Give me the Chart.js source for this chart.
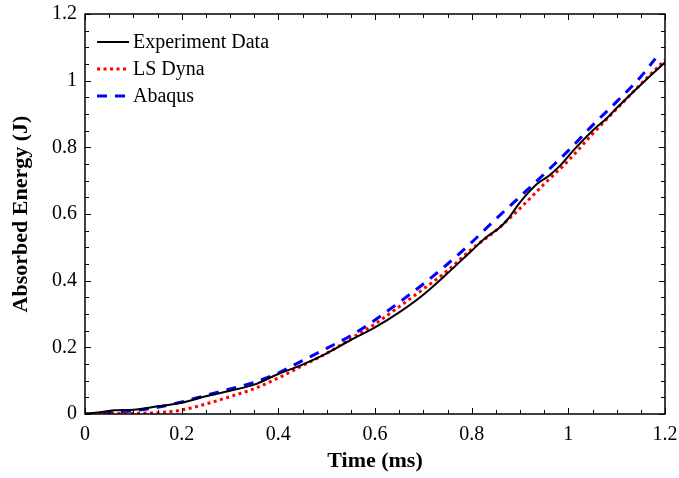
<!DOCTYPE html>
<html>
<head>
<meta charset="utf-8">
<script src="https://cdn.jsdelivr.net/npm/chart.js@4/dist/chart.umd.min.js"></script>
<style>
  body { margin: 0; background: #fff; }
  canvas { display: block; }
</style>
</head>
<body>
<canvas id="energyChart" width="679" height="478"></canvas>
<script>
// Values
const timeExp = [0, 0.03, 0.06, 0.1, 0.15, 0.2, 0.25, 0.3, 0.35, 0.4, 0.45, 0.5, 0.55, 0.6, 0.65, 0.7, 0.75, 0.8, 0.83, 0.86, 0.875, 0.9, 0.935, 0.96, 0.985, 1.01, 1.05, 1.08, 1.1, 1.15, 1.2];
const energyExp = [0, 0.005, 0.011, 0.013, 0.023, 0.034, 0.053, 0.07, 0.088, 0.12, 0.148, 0.182, 0.222, 0.26, 0.305, 0.358, 0.422, 0.49, 0.53, 0.562, 0.585, 0.635, 0.69, 0.715, 0.748, 0.79, 0.85, 0.888, 0.918, 0.988, 1.055];

const timeDyna = [0, 0.05, 0.1, 0.15, 0.2, 0.25, 0.3, 0.35, 0.4, 0.45, 0.5, 0.55, 0.6, 0.65, 0.7, 0.75, 0.8, 0.85, 0.9, 0.95, 1.0, 1.05, 1.1, 1.15, 1.2];
const energyDyna = [0, 0.001, 0.002, 0.004, 0.012, 0.03, 0.052, 0.076, 0.108, 0.145, 0.182, 0.226, 0.27, 0.322, 0.375, 0.43, 0.495, 0.55, 0.617, 0.69, 0.76, 0.84, 0.915, 0.99, 1.062];

const timeAbaqus = [0, 0.05, 0.1, 0.15, 0.2, 0.25, 0.3, 0.35, 0.4, 0.45, 0.5, 0.55, 0.6, 0.65, 0.7, 0.75, 0.8, 0.85, 0.9, 0.95, 1.0, 1.05, 1.1, 1.15, 1.18];
const energyAbaqus = [0, 0.004, 0.01, 0.02, 0.036, 0.056, 0.075, 0.095, 0.123, 0.16, 0.197, 0.235, 0.282, 0.335, 0.39, 0.45, 0.515, 0.585, 0.652, 0.72, 0.79, 0.866, 0.937, 1.012, 1.066];

const seriesNames = ['Experiment Data', 'LS Dyna', 'Abaqus'];
const axisMin = 0, axisMax = 1.2, majorStep = 0.2, minorStep = 0.05;

const FONT = '"Liberation Serif", "Times New Roman", serif';

function pairs(xs, ys) {
    return xs.map((x, i) => ({ x: x, y: ys[i] }));
}

// inward ticks on all four sides + frame
const frameTicks = {
    id: 'frameTicks',
    afterDatasetsDraw(chart) {
        const ctx = chart.ctx;
        const a = chart.chartArea;
        const xs = chart.scales.x, ys = chart.scales.y;
        ctx.save();
        ctx.strokeStyle = '#000';
        ctx.lineWidth = 1;
        const n = Math.round((axisMax - axisMin) / minorStep);
        for (let i = 0; i <= n; i++) {
            const v = axisMin + i * minorStep;
            const major = Math.abs(v / majorStep - Math.round(v / majorStep)) < 1e-6;
            const len = major ? 6 : 4;
            const px = Math.round(xs.getPixelForValue(v)) + 0.5;
            const py = Math.round(ys.getPixelForValue(v)) + 0.5;
            ctx.beginPath();
            ctx.moveTo(px, a.bottom); ctx.lineTo(px, a.bottom - len);
            ctx.moveTo(px, a.top); ctx.lineTo(px, a.top + len);
            ctx.moveTo(a.left, py); ctx.lineTo(a.left + len, py);
            ctx.moveTo(a.right, py); ctx.lineTo(a.right - len, py);
            ctx.stroke();
        }
        ctx.lineWidth = 1.5;
        ctx.strokeRect(a.left, a.top, a.right - a.left, a.bottom - a.top);
        ctx.restore();
    }
};

// legend drawn inside the plot, top-left
const insideLegend = {
    id: 'insideLegend',
    afterDatasetsDraw(chart) {
        const ctx = chart.ctx;
        const a = chart.chartArea;
        ctx.save();
        ctx.font = '20px ' + FONT;
        ctx.textBaseline = 'middle';
        ctx.fillStyle = '#000';
        chart.data.datasets.forEach((ds, i) => {
            const y = a.top + 28 + i * 27;
            const x0 = a.left + 12;
            ctx.strokeStyle = ds.borderColor;
            ctx.lineWidth = ds.borderWidth;
            ctx.setLineDash(ds.borderDash || []);
            ctx.beginPath();
            ctx.moveTo(x0, y);
            ctx.lineTo(x0 + 32, y);
            ctx.stroke();
            ctx.setLineDash([]);
            ctx.fillText(ds.label, x0 + 36, y + 1);
        });
        ctx.restore();
    }
};

new Chart(document.getElementById('energyChart'), {
    type: 'line',
    data: {
        datasets: [
            {
                label: seriesNames[0],
                data: pairs(timeExp, energyExp),
                borderColor: '#000000',
                borderWidth: 2,
                pointRadius: 0,
                cubicInterpolationMode: 'monotone'
            },
            {
                label: seriesNames[1],
                data: pairs(timeDyna, energyDyna),
                borderColor: '#ff0000',
                borderWidth: 3,
                borderDash: [3, 3.5],
                pointRadius: 0,
                cubicInterpolationMode: 'monotone'
            },
            {
                label: seriesNames[2],
                data: pairs(timeAbaqus, energyAbaqus),
                borderColor: '#0000ff',
                borderWidth: 3,
                borderDash: [10, 8],
                pointRadius: 0,
                cubicInterpolationMode: 'monotone'
            }
        ]
    },
    options: {
        responsive: false,
        animation: false,
        devicePixelRatio: 1,
        layout: { padding: { left: 0, right: 14, top: 14, bottom: 0 } },
        plugins: {
            legend: { display: false },
            tooltip: { enabled: false }
        },
        scales: {
            x: {
                type: 'linear',
                min: axisMin,
                max: axisMax,
                grid: { display: false, drawTicks: false },
                border: { display: false },
                ticks: {
                    stepSize: majorStep,
                    color: '#000',
                    padding: 9,
                    maxRotation: 0,
                    font: { family: FONT, size: 20 },
                    callback: v => String(+v.toFixed(1))
                },
                title: {
                    display: true,
                    text: 'Time (ms)',
                    color: '#000',
                    font: { family: FONT, size: 22, weight: 'bold' },
                    padding: { top: 0, bottom: 3 }
                },
                afterFit(scale) {
                    scale.height = 64;
                    scale.paddingLeft = 0;
                    scale.paddingRight = 0;
                }
            },
            y: {
                type: 'linear',
                min: axisMin,
                max: axisMax,
                grid: { display: false, drawTicks: false },
                border: { display: false },
                ticks: {
                    stepSize: majorStep,
                    color: '#000',
                    padding: 8,
                    font: { family: FONT, size: 20 },
                    callback: v => String(+v.toFixed(1))
                },
                title: {
                    display: true,
                    text: 'Absorbed Energy (J)',
                    color: '#000',
                    font: { family: FONT, size: 22, weight: 'bold' },
                    padding: { top: 8, bottom: 0 }
                },
                afterFit(scale) {
                    scale.width = 85;
                    scale.paddingTop = 0;
                    scale.paddingBottom = 0;
                }
            }
        }
    },
    plugins: [frameTicks, insideLegend]
});
</script>
</body>
</html>
